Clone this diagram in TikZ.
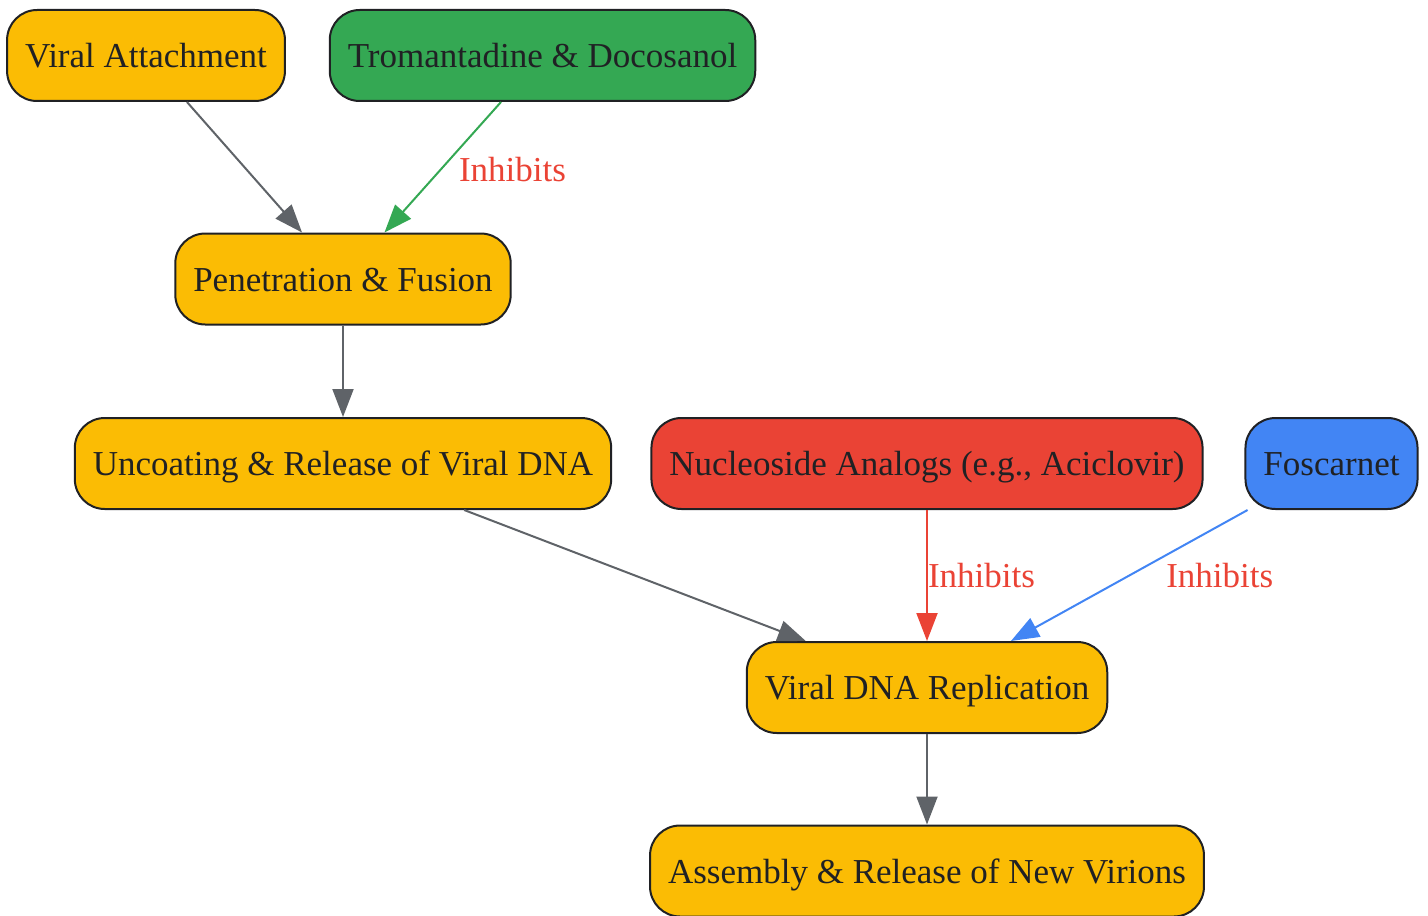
\documentclass[tikz,border=0pt]{standalone}
\usepackage{fontspec}
\setmainfont{Liberation Serif}
\usetikzlibrary{arrows.meta}

\definecolor{ink}{HTML}{202124}
\definecolor{stageyellow}{HTML}{FBBC04}
\definecolor{druggreen}{HTML}{34A853}
\definecolor{drugred}{HTML}{EA4335}
\definecolor{drugblue}{HTML}{4285F4}
\definecolor{flowgrey}{HTML}{5F6368}

\begin{document}
\begin{tikzpicture}[
      x=0.5pt, y=-0.5pt,
      every node/.style={font=\fontsize{17.5}{20}\selectfont},
      box/.style={draw=ink, line width=1pt, rounded corners=15pt,
                  minimum height=45.5pt, inner xsep=9pt, text=ink,
                  text height=12.3pt, text depth=0pt},
      stage/.style={box, fill=stageyellow},
      flow/.style={line width=1pt, draw=flowgrey, -{Triangle[length=14pt, width=10.5pt]}},
      inhibit/.style={text=drugred, inner sep=0pt, anchor=west}
    ]
    \useasboundingbox (0,0) rectangle (1428,915);

    % life cycle of the virus
    \node[stage] (attach)   at (146,55.5)  {Viral Attachment};
    \node[stage] (fusion)   at (343,279)   {Penetration \& Fusion};
    \node[stage] (uncoat)   at (343,463.5) {Uncoating \& Release of Viral DNA};
    \node[stage] (replic)   at (927,687.5) {Viral DNA Replication};
    \node[stage] (assembly) at (927,871)   {Assembly \& Release of New Virions};

    % drugs
    \node[box, fill=druggreen] (tromant) at (542.5,55.5)  {Tromantadine \& Docosanol};
    \node[box, fill=drugred]   (nucleo)  at (927,463.5)   {Nucleoside Analogs (e.g., Aciclovir)};
    \node[box, fill=drugblue]  (foscar)  at (1331.5,463.5) {Foscarnet};

    \draw[flow] (attach) -- (fusion);
    \draw[flow] (fusion) -- (uncoat);
    \draw[flow] (uncoat) -- (replic);
    \draw[flow] (replic) -- (assembly);

    \draw[flow, draw=druggreen, fill=druggreen] (tromant) -- (fusion)
      node[inhibit, pos=0.515, xshift=8.5pt] {Inhibits};
    \draw[flow, draw=drugred, fill=drugred] (nucleo) -- (replic)
      node[inhibit, midway] {Inhibits};
    \draw[flow, draw=drugblue, fill=drugblue] (foscar) -- (replic)
      node[inhibit, pos=0.5, xshift=18pt] {Inhibits};

  \end{tikzpicture}
\end{document}
